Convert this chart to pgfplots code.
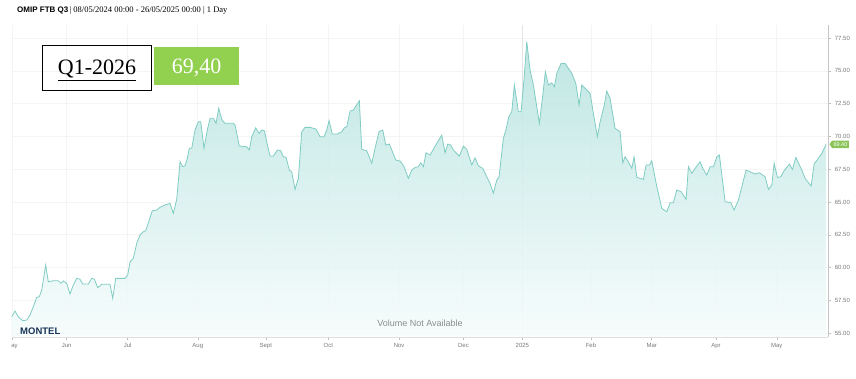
\documentclass[border=0pt]{standalone}
\usepackage{pgfplots}
\pgfplotsset{compat=1.18}
\usepackage{pgfplotstable}
\usepackage{fontspec}
\setmainfont{Liberation Serif}
\setsansfont{Liberation Sans}
\usetikzlibrary{shapes.symbols}
\definecolor{linec}{RGB}{128,204,195}
\definecolor{filltop}{RGB}{184,228,224}
\definecolor{fillbot}{RGB}{246,252,252}
\definecolor{boxgreen}{RGB}{146,208,80}
\definecolor{taggreen}{RGB}{140,196,90}
\definecolor{montel}{RGB}{24,52,88}
\definecolor{labgray}{RGB}{120,120,120}

\pgfplotstableread{
x y
0 56.24
1.08 56.68
2.16 56.24
3.61 55.94
4.92 55.99
6.0 56.37
7.08 57.01
8.2 57.72
9.05 57.77
9.84 58.28
11.15 60.19
12.0 58.91
13.64 58.99
15.28 58.99
16.16 58.79
16.92 58.97
18.03 58.79
19.11 57.98
20.2 58.66
21.31 59.17
22.39 59.10
23.28 58.74
25.11 58.74
26.23 59.17
27.08 59.12
28.2 58.46
29.51 58.72
32.23 58.72
33.11 57.65
34.1 59.17
37.15 59.17
38.03 59.42
38.79 60.44
39.87 60.70
40.98 61.84
42.07 62.48
43.15 62.73
43.93 62.80
45.02 63.57
46.1 64.33
47.54 64.38
48.62 64.59
50.26 64.77
51.9 64.89
52.98 64.13
54.1 65.20
55.18 68.07
56.07 67.69
56.82 67.76
57.57 68.33
58.23 69.09
59.02 69.09
60.1 70.49
61.18 71.12
61.97 71.12
63.05 69.09
64.13 70.49
65.02 71.38
66.1 71.38
66.98 71.00
67.87 72.14
68.85 71.30
69.93 71.00
72.66 71.00
73.21 70.87
74.62 69.27
77.05 69.21
77.9 68.96
78.69 69.98
80.0 70.66
81.08 70.23
81.97 70.49
82.82 70.43
83.61 69.59
84.69 68.50
85.77 68.50
87.08 68.96
88.2 68.91
89.05 68.45
89.93 68.40
91.02 67.43
91.8 67.30
92.89 65.96
93.97 66.80
95.08 70.36
96.16 70.69
97.8 70.69
99.77 70.56
101.08 69.98
102.39 69.98
103.28 70.49
104.03 71.20
105.11 70.18
106.75 70.18
108.2 70.36
109.05 70.66
109.84 70.74
110.92 71.93
112.0 72.01
113.97 72.72
114.75 69.01
116.39 68.91
118.03 67.95
119.11 69.09
120.43 70.36
121.64 70.49
122.62 69.34
123.8 69.42
125.9 68.20
127.31 68.12
128.62 67.70
130.03 66.80
131.15 67.43
132.23 67.64
133.31 67.69
134.1 67.99
134.95 67.69
135.84 68.75
137.15 68.58
139.34 69.47
140.98 70.10
142.07 68.75
142.95 69.42
143.93 69.34
144.79 68.96
146.75 68.50
148.07 69.26
149.18 69.01
150.82 67.82
151.9 68.37
152.98 67.76
154.43 67.56
155.74 66.92
156.82 66.42
157.9 65.66
159.02 66.67
159.77 66.92
161.18 69.85
162.07 70.54
162.95 71.50
163.93 71.88
164.79 73.92
166.1 71.88
166.98 71.88
167.97 74.43
168.85 77.22
169.93 75.06
171.02 73.92
172.13 72.26
172.98 71.00
174.1 73.15
174.95 74.93
175.93 73.92
177.05 74.09
177.9 73.79
178.69 74.81
180.1 75.57
181.41 75.57
182.49 75.19
183.61 74.81
184.92 74.05
186.0 72.39
186.89 73.92
188.3 73.59
189.61 73.28
190.69 71.76
192.0 69.98
192.89 71.12
194.2 72.32
195.08 73.46
196.16 72.90
197.8 70.61
199.44 70.36
200.33 67.99
201.08 68.45
202.16 68.07
203.28 67.56
204.03 68.45
204.92 66.88
207.08 66.72
207.97 67.82
209.05 67.82
209.84 68.14
211.48 66.16
213.11 64.51
214.75 64.25
215.84 64.94
216.92 64.94
218.03 65.91
219.44 65.78
221.08 65.20
221.84 67.69
222.95 67.18
224.03 67.56
225.67 68.07
226.56 67.56
227.87 67.05
228.95 67.69
230.03 67.69
231.15 68.45
232.0 68.58
233.87 65.02
235.74 64.94
236.82 64.38
238.23 65.15
240.75 67.43
242.07 67.30
243.7 67.13
245.11 67.23
246.98 66.92
248.07 65.96
249.18 66.29
249.93 67.95
251.02 66.88
252.13 66.92
253.21 67.38
254.95 67.89
255.93 67.49
257.05 68.40
259.02 67.43
260.1 66.80
262.07 66.21
263.05 67.89
265.57 68.71
266.98 69.40
}\omip

\begin{document}
\begin{tikzpicture}[x=1pt,y=1pt]
\useasboundingbox (0,0) rectangle (856,378);
\begin{scope}
\clip (11,0) rectangle (856,378);
\begin{axis}[
  at={(11.7pt,41.3pt)}, anchor=south west,
  width=816.6pt, height=311.7pt, scale only axis,
  xmin=0, xmax=267.7, ymin=54.72, ymax=78.5,
  axis x line*=bottom, axis y line*=right,
  x axis line style={draw=gray!25,-},
  y axis line style={draw=gray!45,-},
  xtick={0.1,18.0,38.0,61.0,83.3,103.8,127.0,148.1,167.4,189.9,209.8,230.9,250.8},
  xticklabels={May,Jun,Jul,Aug,Sept,Oct,Nov,Dec,2025,Feb,Mar,Apr,May},
  ytick={55,57.5,...,77.5},
  yticklabel style={/pgf/number format/.cd, fixed, fixed zerofill, precision=2},
  /pgf/number format/assume math mode=true,
  ticklabel style={font=\sffamily\fontsize{6}{7}\selectfont, text=labgray},
  tick style={draw=gray!50, thin},
  tick align=outside, major tick length=3pt,
  grid=major, major grid style={draw=gray!9, line width=0.6pt},
  clip=false,
]
\draw[gray!22, line width=0.7pt] (axis cs:167.4,54.72) -- (axis cs:167.4,78.5);
\addplot[draw=none, top color=filltop, bottom color=fillbot, fill opacity=0.9] table[x=x,y=y]{\omip} \closedcycle;
\addplot[linec, line width=0.8pt] table[x=x,y=y]{\omip};
\node[signal, signal to=west, signal pointer angle=110, fill=taggreen, text=white, inner xsep=1.5pt, inner ysep=1.8pt, anchor=west,
  font=\sffamily\fontsize{5.5}{6}\selectfont] at (axis cs:268.0,69.4) {69.40};
\end{axis}
\end{scope}
\node[anchor=base west, inner sep=0] at (17,365) {\fontsize{8}{9}\selectfont\sffamily\bfseries OMIP FTB Q3\,\rmfamily\mdseries\fontsize{8.5}{9}\selectfont| 08/05/2024 00:00 - 26/05/2025 00:00 | 1 Day};
\draw[black, line width=1pt] (42.3,332) rectangle (151.7,287.3);
\node[anchor=base, inner sep=0] at (97,303) {\fontsize{22}{24}\selectfont\underline{Q1-2026}};
\fill[boxgreen] (154.3,331.3) rectangle (239,293);
\node[anchor=base, inner sep=0, text=white] at (196.7,304.7) {\fontsize{22}{24}\selectfont 69,40};
\node[anchor=base, inner sep=0, text=gray!90] at (420,52) {\sffamily\fontsize{9}{10}\selectfont Volume Not Available};
\node[anchor=base west, inner sep=0, text=montel] at (20,43.5) {\sffamily\bfseries\fontsize{9.5}{10}\selectfont MONTEL};
\end{tikzpicture}
\end{document}
